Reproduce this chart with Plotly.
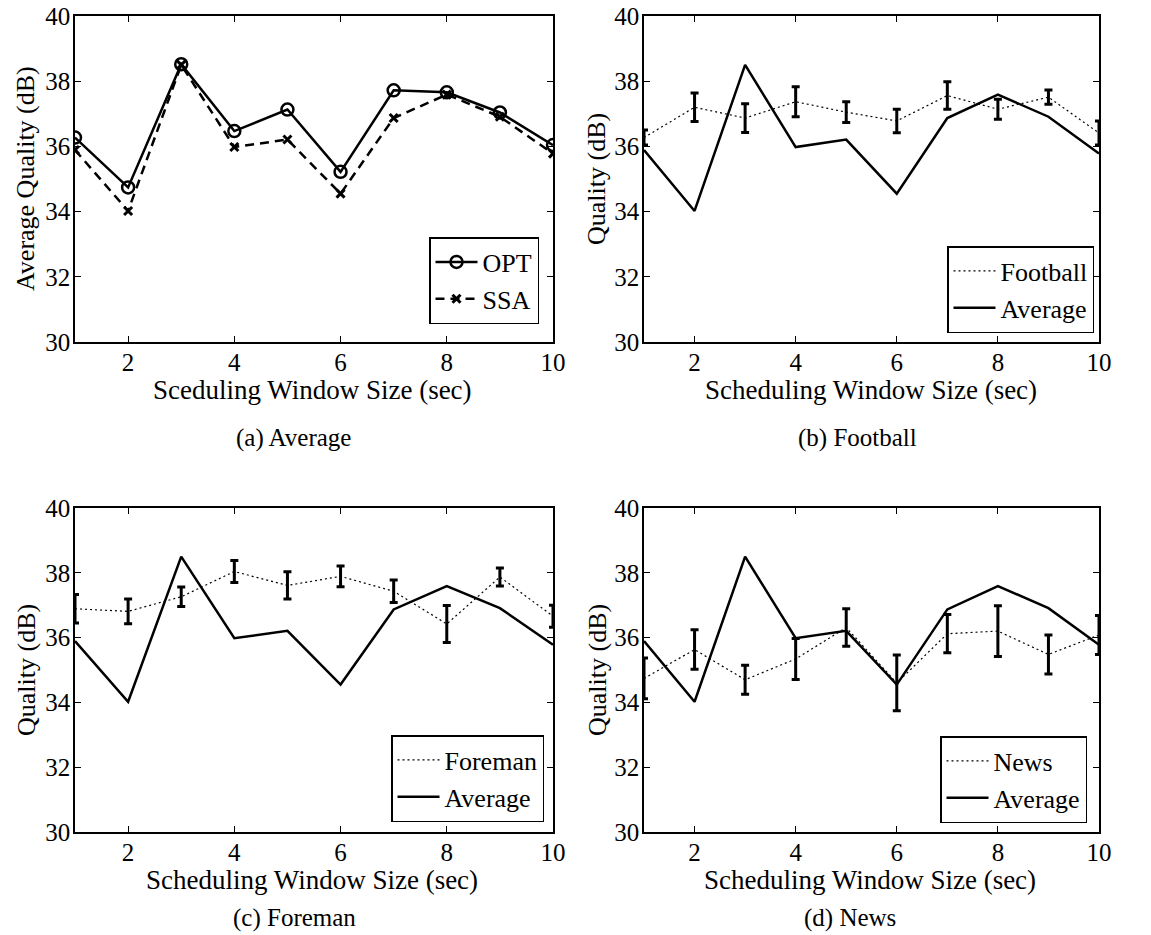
import plotly.graph_objects as go

# ---------------- data ----------------
window = [1, 2, 3, 4, 5, 6, 7, 8, 9, 10]
opt = [36.27, 34.74, 38.52, 36.47, 37.13, 35.22, 37.72, 37.66, 37.04, 36.04]
ssa = [35.89, 34.02, 38.50, 35.98, 36.21, 34.55, 36.87, 37.59, 36.91, 35.78]

football_mean = [36.27, 37.20, 36.87, 37.37, 37.05, 36.78, 37.56, 37.14, 37.51, 36.41]
football_err = [0.23, 0.44, 0.44, 0.46, 0.32, 0.36, 0.42, 0.31, 0.22, 0.37]
foreman_mean = [36.89, 36.81, 37.26, 38.04, 37.61, 37.89, 37.43, 36.42, 37.87, 36.66]
foreman_err = [0.44, 0.38, 0.30, 0.34, 0.42, 0.32, 0.35, 0.57, 0.28, 0.34]
news_mean = [34.74, 35.63, 34.70, 35.34, 36.31, 34.60, 36.12, 36.20, 35.48, 36.08]
news_err = [0.63, 0.61, 0.45, 0.63, 0.58, 0.86, 0.59, 0.78, 0.60, 0.60]

x_ticks = [2, 4, 6, 8, 10]
y_ticks = [30, 32, 34, 36, 38, 40]

FONT = "Liberation Serif"
W, H = 1151, 935

def px(x):
    return x / W

def py(y):
    return 1 - y / H

fig = go.Figure()

# panel (a)
fig.add_trace(go.Scatter(x=window, y=opt, name="OPT", mode="lines+markers",
                         line=dict(color="black", width=2.5),
                         marker=dict(symbol="circle-open", size=12, color="black",
                                     line=dict(width=2.5)),
                         xaxis="x", yaxis="y", legend="legend"))
fig.add_trace(go.Scatter(x=window, y=ssa, name="SSA", mode="lines+markers",
                         line=dict(color="black", width=2.5, dash="9px,6px"),
                         marker=dict(symbol="x-thin-open", size=8, color="black",
                                     line=dict(width=3)),
                         xaxis="x", yaxis="y", legend="legend"))

panels = [
    ("Football", football_mean, football_err, "x2", "y2", "legend2"),
    ("Foreman", foreman_mean, foreman_err, "x3", "y3", "legend3"),
    ("News", news_mean, news_err, "x4", "y4", "legend4"),
]
for name, m, e, xa, ya, lg in panels:
    fig.add_trace(go.Scatter(x=window, y=m, name=name, mode="lines",
                             line=dict(color="black", width=1.2, dash="2px,3px"),
                             error_y=dict(type="data", array=e, visible=True,
                                          color="black", thickness=3, width=4),
                             xaxis=xa, yaxis=ya, legend=lg))
    fig.add_trace(go.Scatter(x=window, y=ssa, name="Average", mode="lines",
                             line=dict(color="black", width=2.5),
                             xaxis=xa, yaxis=ya, legend=lg))

# geometry (page pixels)
cols = [(75, 553), (644, 1099)]
rows = [(16, 342), (508, 832)]
layout_axes = {}
names = [("xaxis", "yaxis", "y", "x"), ("xaxis2", "yaxis2", "y2", "x2"),
         ("xaxis3", "yaxis3", "y3", "x3"), ("xaxis4", "yaxis4", "y4", "x4")]
for i, (xn, yn, yref, xref) in enumerate(names):
    c = cols[i % 2]
    r = rows[i // 2]
    common = dict(showline=True, linecolor="black", linewidth=1.5, mirror="ticks",
                  ticks="inside", ticklen=6, tickwidth=1, tickcolor="black",
                  showgrid=False, zeroline=False, automargin=False,
                  ticklabeloverflow="allow",
                  tickfont=dict(family=FONT, size=25, color="black"))
    layout_axes[xn] = dict(domain=[px(c[0]), px(c[1])], range=[1, 10],
                           tickvals=x_ticks, anchor=yref, ticklabelstandoff=-3, **common)
    layout_axes[yn] = dict(domain=[py(r[1]), py(r[0])], range=[30, 40],
                           tickvals=y_ticks, anchor=xref, ticklabelstandoff=-2, **common)

legend_common = dict(bgcolor="white", bordercolor="black", borderwidth=1.5,
                     font=dict(family=FONT, size=26, color="black"),
                     xanchor="right", yanchor="bottom", tracegroupgap=0,
                     itemwidth=42)

fig.update_layout(
    width=W, height=H,
    margin=dict(l=0, r=0, t=0, b=0, autoexpand=False),
    paper_bgcolor="white", plot_bgcolor="white",
    font=dict(family=FONT, color="black"),
    legend=dict(x=px(539), y=py(324), **legend_common),
    legend2=dict(x=px(1094), y=py(333), **legend_common),
    legend3=dict(x=px(544), y=py(822), **legend_common),
    legend4=dict(x=px(1087), y=py(823), **legend_common),
    **layout_axes,
)

ann = []
def text(x, y, s, size, angle=0):
    ann.append(dict(x=px(x), y=py(y), xref="paper", yref="paper", text=s,
                    showarrow=False, textangle=angle, xanchor="center", yanchor="middle",
                    font=dict(family=FONT, size=size, color="black")))

TS = 27
# x titles
text(312, 390, "Sceduling Window Size (sec)", TS)
text(871, 390, "Scheduling Window Size (sec)", TS)
text(312, 880, "Scheduling Window Size (sec)", TS)
text(870, 880, "Scheduling Window Size (sec)", TS)
# y titles
text(26, 179, "Average Quality (dB)", 26, -90)
text(597, 179, "Quality (dB)", 26, -90)
text(26, 670, "Quality (dB)", 26, -90)
text(597, 670, "Quality (dB)", 26, -90)
# captions
text(293, 438, "(a) Average", 25)
text(857, 438, "(b) Football", 25)
text(294, 918, "(c) Foreman", 25)
text(850, 918, "(d) News", 25)

fig.update_layout(annotations=ann)
fig.write_html(
    "out.html",
    config={"displayModeBar": False},
    post_script="document.body.style.margin='0px';document.body.style.overflow='hidden';",
)
